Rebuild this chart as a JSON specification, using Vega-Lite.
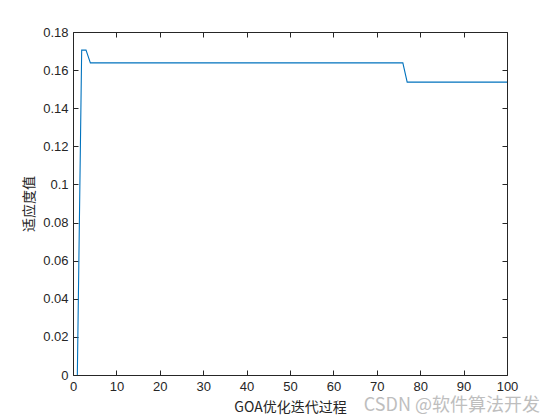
{
  "$schema": "https://vega.github.io/schema/vega-lite/v6.json",
  "width": 434,
  "height": 343,
  "autosize": {"type": "none"},
  "padding": {"left": 73, "top": 32, "right": 53, "bottom": 45},
  "background": "white",
  "config": {
    "view": {"stroke": null},
    "axis": {
      "domainColor": "#262626",
      "tickColor": "#262626",
      "labelColor": "#262626",
      "titleColor": "#262626",
      "labelFont": "Liberation Sans",
      "labelFontSize": 13,
      "grid": false,
      "tickSize": -5,
      "domainWidth": 1,
      "tickWidth": 1,
      "titleFontWeight": "normal",
      "titleFont": "Noto Sans CJK SC",
      "titleFontSize": 14
    }
  },
  "datasets": {
    "fit": [
      {"iter": 1, "fitness": 0},
      {"iter": 2, "fitness": 0.1705},
      {"iter": 3, "fitness": 0.1705},
      {"iter": 4, "fitness": 0.1638},
      {"iter": 76, "fitness": 0.1638},
      {"iter": 77, "fitness": 0.1537},
      {"iter": 100, "fitness": 0.1537}
    ],
    "mark": [{"iter": 100, "fitness": 0, "label": "CSDN @软件算法开发"}]
  },
  "layer": [
    {
      "data": {"name": "fit"},
      "mark": {"type": "line", "color": "#0072BD", "strokeWidth": 1.1, "clip": true},
      "encoding": {
        "x": {
          "field": "iter", "type": "quantitative",
          "scale": {"domain": [0, 100], "nice": false, "zero": false},
          "axis": {"values": [0,10,20,30,40,50,60,70,80,90,100], "title": "GOA优化迭代过程", "labelPadding": 10, "titlePadding": 7, "labelFlush": false}
        },
        "y": {
          "field": "fitness", "type": "quantitative",
          "scale": {"domain": [0, 0.18], "nice": false},
          "axis": {"values": [0,0.02,0.04,0.06,0.08,0.1,0.12,0.14,0.16,0.18], "format": ".2~f", "title": "适应度值", "labelPadding": 10, "titlePadding": 6, "labelFlush": false}
        }
      }
    },
    {
      "data": {"name": "fit"},
      "mark": {"type": "line", "opacity": 0},
      "encoding": {
        "x": {
          "field": "iter", "type": "quantitative",
          "scale": {"domain": [0, 100], "nice": false, "zero": false},
          "axis": {"orient": "top", "values": [0,10,20,30,40,50,60,70,80,90,100], "labels": false, "title": null}
        },
        "y": {
          "field": "fitness", "type": "quantitative",
          "scale": {"domain": [0, 0.18], "nice": false},
          "axis": {"orient": "right", "values": [0,0.02,0.04,0.06,0.08,0.1,0.12,0.14,0.16,0.18], "labels": false, "title": null}
        }
      }
    },
    {
      "data": {"name": "mark"},
      "mark": {"type": "text", "align": "right", "baseline": "middle", "dx": 33, "dy": 31, "fontSize": 18, "font": "Noto Sans CJK SC", "color": "#b8b8b8", "opacity": 0.9},
      "encoding": {
        "x": {"field": "iter", "type": "quantitative", "scale": {"domain": [0, 100], "nice": false, "zero": false}, "axis": null},
        "y": {"field": "fitness", "type": "quantitative", "scale": {"domain": [0, 0.18], "nice": false}, "axis": null},
        "text": {"field": "label"}
      }
    }
  ],
  "resolve": {"axis": {"x": "independent", "y": "independent"}}
}
